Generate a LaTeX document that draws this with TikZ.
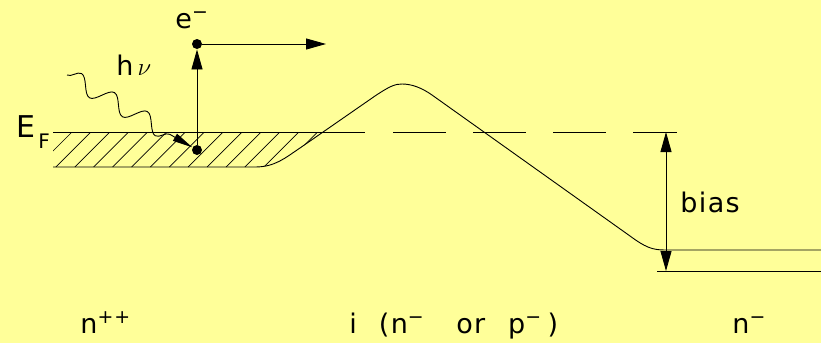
\documentclass[tikz,border=0pt]{standalone}
\usepackage{fontspec}
\setmainfont{DejaVu Sans}[LetterSpace=5]
\usetikzlibrary{arrows.meta, decorations.pathmorphing}
\definecolor{bgyellow}{RGB}{255,255,153}

\begin{document}
\begin{tikzpicture}[x=1pt, y=-1pt, >={Triangle[length=20pt,width=11pt]}, line width=0.9pt,
  lbl/.style={inner sep=0pt, font=\fontsize{27}{30}\selectfont},
  dot/.style={circle, fill, inner sep=0pt, minimum size=10pt},
  photon/.style={->, >={Triangle[length=20pt,width=8pt]}, decorate,
    decoration={snake, amplitude=8.5pt, segment length=38pt, post length=20pt}}]
% background
\fill[bgyellow] (0,0) rectangle (821,343);
\useasboundingbox (0,0) rectangle (821,343);
% hatched filled states below E_F
\begin{scope}
\clip (53,132) -- (323,132) -- (300,148) .. controls (285,158) and (275,167) .. (255,167) -- (53,167) -- cycle;
\foreach \i in {0,...,15} \draw[line width=0.7pt] ({37+18.9*\i},167) -- ++(35,-35);
\end{scope}
% band edge
\draw (53,167) -- (255,167) .. controls (275,167) and (285,158) .. (300,148) -- (375,96)
  .. controls (390,86) and (395,84) .. (402,84) .. controls (412,84) and (422,88) .. (432,95)
  -- (630,236) .. controls (645,247) and (652,250) .. (665,250) -- (821,250);
\draw (657,271) -- (821,271);
% Fermi level
\draw (53,132) -- (365,132);
\draw[dash pattern=on 53pt off 27pt] (393,132) -- (677,132);
\node[lbl, anchor=base west] (ef) at (16,137) {\fontsize{30}{32}\selectfont E\hspace{3pt}\raisebox{-11pt}{\fontsize{20}{22}\selectfont F}};
% bias
\coordinate (btop) at (666,132);
\coordinate (bbot) at (666,271);
\draw[<->] (btop) -- (bbot);
\node[lbl, anchor=west] (bias) at (680,202) {bias};
% photo-excited electron
\node[dot] (eLow) at (197,150) {};
\node[dot] (eHigh) at (197,44) {};
\coordinate (eGo) at (326,44);
\draw[->] (eLow) -- (eHigh);
\draw[->] (eHigh) -- (eGo);
\node[lbl, anchor=base west] (eLbl) at (175,28) {e\textsuperscript{−}};
% photon
\coordinate (phStart) at (67,75);
\draw[photon] (phStart) -- (eLow);
\node[lbl, anchor=base west] (hnu) at (116,75) {h\hspace{4pt}$\nu$};
% regions
\node[lbl, anchor=base west] (nLeft) at (80,333) {n\textsuperscript{++}};
\node[lbl, anchor=base west] (nMid) at (349,333) {i\hspace{22pt}(n\textsuperscript{−}\hspace{32pt}or\hspace{23pt}p\textsuperscript{−}\hspace{6pt})};
\node[lbl, anchor=base west] (nRight) at (732,333) {n\textsuperscript{−}};
\end{tikzpicture}
\end{document}
